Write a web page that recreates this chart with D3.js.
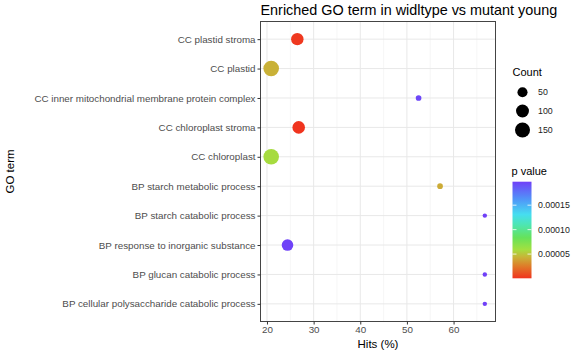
<!DOCTYPE html>
<html>
<head>
<meta charset="utf-8">
<script src="https://cdn.jsdelivr.net/npm/d3@7"></script>
<style>
  body { margin: 0; background: #fff; }
  svg { font-family: "Liberation Sans", Arial, sans-serif; }
</style>
</head>
<body>
<div id="chart"></div>
<script>
// GO terms, top to bottom
const terms = [
  "CC plastid stroma",
  "CC plastid",
  "CC inner mitochondrial membrane protein complex",
  "CC chloroplast stroma",
  "CC chloroplast",
  "BP starch metabolic process",
  "BP starch catabolic process",
  "BP response to inorganic substance",
  "BP glucan catabolic process",
  "BP cellular polysaccharide catabolic process"
];
const hits = [26.5, 20.9, 52.5, 26.8, 20.9, 57.1, 66.7, 24.4, 66.7, 66.7];
const counts = [90, 165, 12, 93, 164, 12, 10, 74, 10, 10];
const pvalues = [0.000002, 0.000043, 0.000195, 0.0000005, 0.000058, 0.000041, 0.000198, 0.000197, 0.000198, 0.000198];

const xTicks = [20, 30, 40, 50, 60];
const xMinor = [25, 35, 45, 55, 65];
const sizeBreaks = [50, 100, 150];
const pBreaks = [0.00005, 0.00010, 0.00015];

const W = 585, H = 354;
const panel = { left: 260.5, right: 495.5, top: 21.5, bottom: 321.5 };

const svg = d3.select("#chart").append("svg")
  .attr("width", W).attr("height", H);

// scales
const [xmin, xmax] = d3.extent(hits);
const pad = (xmax - xmin) * 0.05;
const x = d3.scaleLinear()
  .domain([xmin - pad, xmax + pad])
  .range([panel.left, panel.right]);

const y = d3.scalePoint()
  .domain(terms)
  .range([panel.top, panel.bottom])
  .padding(0.6);

// size like ggplot's area palette
const [cmin, cmax] = d3.extent(counts);
const rMin = 2.2, rMax = 7.8;
const r = v => rMin + (rMax - rMin) * Math.sqrt(Math.max(0, (v - cmin) / (cmax - cmin)));

// colour gradient (low p = red, high p = purple)
const [pmin, pmax] = d3.extent(pvalues);
const stopPos = [0, 0.12, 0.22, 0.3, 0.42, 0.55, 0.66, 0.82, 1];
const stopCol = ["#f0341e", "#e07828", "#c8b438", "#a2e040", "#66e25a", "#4ee6b0", "#46def0", "#5094f8", "#7040f8"];
const color = d3.scaleLinear()
  .domain(stopPos.map(t => pmin + t * (pmax - pmin)))
  .range(stopCol);

// grid
const g = svg.append("g");
g.selectAll("line.minor").data(xMinor).enter().append("line")
  .attr("x1", d => x(d)).attr("x2", d => x(d))
  .attr("y1", panel.top).attr("y2", panel.bottom)
  .attr("stroke", "#f0f0f0").attr("stroke-width", 0.6);
g.selectAll("line.major").data(xTicks).enter().append("line")
  .attr("x1", d => x(d)).attr("x2", d => x(d))
  .attr("y1", panel.top).attr("y2", panel.bottom)
  .attr("stroke", "#e8e8e8").attr("stroke-width", 1);
g.selectAll("line.hy").data(terms).enter().append("line")
  .attr("x1", panel.left).attr("x2", panel.right)
  .attr("y1", d => y(d)).attr("y2", d => y(d))
  .attr("stroke", "#e8e8e8").attr("stroke-width", 1);

// points
svg.append("g").selectAll("circle")
  .data(terms.map((t, i) => ({ term: t, hit: hits[i], count: counts[i], p: pvalues[i] })))
  .enter().append("circle")
  .attr("cx", d => x(d.hit))
  .attr("cy", d => y(d.term))
  .attr("r", d => r(d.count))
  .attr("fill", d => color(d.p));

// panel border
svg.append("rect")
  .attr("x", panel.left).attr("y", panel.top)
  .attr("width", panel.right - panel.left).attr("height", panel.bottom - panel.top)
  .attr("fill", "none").attr("stroke", "#444").attr("stroke-width", 1);

// axes
const xAxis = svg.append("g")
  .attr("transform", `translate(0,${panel.bottom})`)
  .call(d3.axisBottom(x).tickValues(xTicks).tickSize(3).tickPadding(2).tickSizeOuter(0));
const yAxis = svg.append("g")
  .attr("transform", `translate(${panel.left},0)`)
  .call(d3.axisLeft(y).tickSize(3).tickPadding(2).tickSizeOuter(0));
for (const ax of [xAxis, yAxis]) {
  ax.select(".domain").remove();
  ax.selectAll(".tick line").attr("stroke", "#333");
  ax.selectAll(".tick text").attr("fill", "#4d4d4d").style("font-size", "9.8px");
}

// titles
svg.append("text")
  .attr("x", panel.left).attr("y", 14.5)
  .style("font-size", "14.4px").attr("fill", "#000")
  .text("Enriched GO term in widltype vs mutant young");
svg.append("text")
  .attr("x", (panel.left + panel.right) / 2).attr("y", 348)
  .attr("text-anchor", "middle").style("font-size", "11.5px")
  .text("Hits (%)");
svg.append("text")
  .attr("transform", `translate(14,${(panel.top + panel.bottom) / 2}) rotate(-90)`)
  .attr("text-anchor", "middle").style("font-size", "11.5px")
  .text("GO term");

// size legend
const lx = 512.5;
svg.append("text").attr("x", lx).attr("y", 75.5)
  .style("font-size", "11px").text("Count");
const sizeY = [92.3, 111, 130];
const sl = svg.append("g").selectAll("g").data(sizeBreaks).enter().append("g");
sl.append("circle")
  .attr("cx", 522.5).attr("cy", (d, i) => sizeY[i])
  .attr("r", d => r(d)).attr("fill", "#000");
sl.append("text")
  .attr("x", 538).attr("y", (d, i) => sizeY[i] + 3)
  .style("font-size", "8.8px").attr("fill", "#222")
  .text(d => d);

// colour legend
svg.append("text").attr("x", lx - 1).attr("y", 175)
  .style("font-size", "11px").text("p value");
const bar = { x: 512.5, w: 19, top: 181.7, bottom: 278.3 };
const pbar = d3.scaleLinear().domain([pmin, pmax]).range([bar.bottom, bar.top]);
const grad = svg.append("defs").append("linearGradient")
  .attr("id", "pgrad").attr("x1", 0).attr("y1", 1).attr("x2", 0).attr("y2", 0);
d3.range(0, 1.0001, 0.02).forEach(t => {
  grad.append("stop").attr("offset", t)
    .attr("stop-color", color(pmin + t * (pmax - pmin)));
});
svg.append("rect")
  .attr("x", bar.x).attr("y", bar.top)
  .attr("width", bar.w).attr("height", bar.bottom - bar.top)
  .attr("fill", "url(#pgrad)");
const pb = svg.append("g").selectAll("g").data(pBreaks).enter().append("g");
pb.append("line")
  .attr("x1", bar.x).attr("x2", bar.x + 4)
  .attr("y1", d => pbar(d)).attr("y2", d => pbar(d))
  .attr("stroke", "#fff").attr("stroke-width", 0.8);
pb.append("line")
  .attr("x1", bar.x + bar.w - 4).attr("x2", bar.x + bar.w)
  .attr("y1", d => pbar(d)).attr("y2", d => pbar(d))
  .attr("stroke", "#fff").attr("stroke-width", 0.8);
pb.append("text")
  .attr("x", 538).attr("y", d => pbar(d) + 3)
  .style("font-size", "8.8px").attr("fill", "#222")
  .text(d => d.toFixed(5));
</script>
</body>
</html>
